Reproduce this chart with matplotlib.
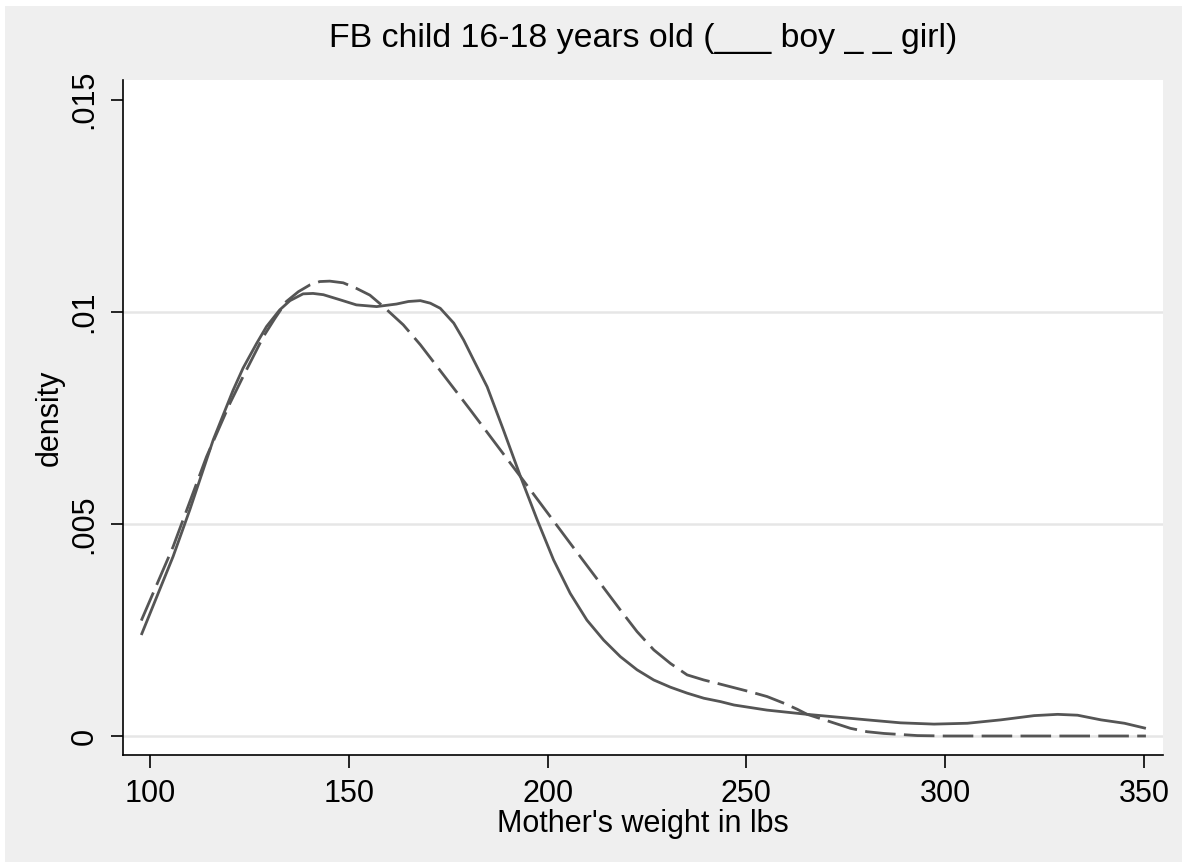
import matplotlib
matplotlib.use("Agg")
import matplotlib.pyplot as plt
from matplotlib.patches import Rectangle

plt.rcParams['font.family'] = ['Liberation Sans', 'DejaVu Sans']

# Boy (solid) density estimate
boy_x = [97.8, 105.8, 110.0, 115.9, 120.9, 123.4, 126.8, 129.3, 132.6, 135.2, 138.5,
         141.0, 143.6, 147.8, 151.9, 157.0, 162.0, 165.0, 168.0, 170.5, 173.0, 176.4,
         178.9, 181.4, 184.8, 188.9, 193.2, 197.4, 201.5, 205.7, 209.9, 214.1, 218.3,
         222.5, 226.7, 230.9, 235.1, 239.3, 243.5, 246.9, 255.2, 265.3, 280.4, 288.8,
         297.2, 305.6, 314.0, 322.4, 328.3, 333.3, 339.2, 345.1, 350.5]
boy_y = [0.00238, 0.00423, 0.00533, 0.00698, 0.00815, 0.00867, 0.00925, 0.00965, 0.01004,
         0.01026, 0.01042, 0.01043, 0.01040, 0.01028, 0.01016, 0.01012, 0.01018, 0.01024,
         0.01026, 0.01020, 0.01008, 0.00973, 0.00933, 0.00886, 0.00823, 0.00721, 0.00611,
         0.00509, 0.00415, 0.00336, 0.00273, 0.00226, 0.00187, 0.00156, 0.00132, 0.00115,
         0.00101, 0.00089, 0.00081, 0.00073, 0.00061, 0.00051, 0.00038, 0.00031, 0.00028,
         0.00030, 0.00038, 0.00048, 0.00051, 0.00049, 0.00038, 0.00030, 0.00018]

# Girl (dashed) density estimate
girl_x = [97.8, 105.8, 114.2, 120.1, 123.4, 128.5, 131.4, 134.3, 137.3, 140.2, 142.7,
          145.2, 148.6, 151.9, 155.3, 158.7, 163.7, 168.0, 180.6, 193.2, 205.7, 218.3,
          222.5, 226.7, 230.9, 235.1, 239.3, 242.7, 251.0, 255.2, 259.5, 262.8, 265.3,
          270.3, 276.2, 280.4, 284.6, 293.0, 300.0, 320.0, 340.0, 350.5]
girl_y = [0.00272, 0.00446, 0.00658, 0.00784, 0.00847, 0.00941, 0.00984, 0.01024, 0.01047,
          0.01063, 0.01071, 0.01072, 0.01068, 0.01055, 0.01039, 0.01012, 0.00969, 0.00922,
          0.00768, 0.00611, 0.00454, 0.00297, 0.00246, 0.00203, 0.00171, 0.00144, 0.00132,
          0.00124, 0.00104, 0.00093, 0.00077, 0.00063, 0.00051, 0.00036, 0.00018, 0.00010,
          0.00006, 0.00001, 0.0, 0.0, 0.0, 0.0]

x_ticks = [100, 150, 200, 250, 300, 350]
y_ticks = [0, 0.005, 0.01, 0.015]
y_tick_labels = ['0', '.005', '.01', '.015']
grid_levels = [0, 0.005, 0.01]

W, H = 1187, 867
fig = plt.figure(figsize=(W / 100, H / 100), dpi=100, facecolor='white')
fig.patches.append(Rectangle((5 / W, 5 / H), (W - 10) / W, (H - 11) / H,
                             transform=fig.transFigure, facecolor='#EFEFEF',
                             edgecolor='none', zorder=-10))

left, right, top, bottom = 123, 1163, 80, 755
ax = fig.add_axes([left / W, 1 - bottom / H, (right - left) / W, (bottom - top) / H])
ax.set_facecolor('white')

for g in grid_levels:
    ax.axhline(g, color='#E6E6E6', lw=1.8, zorder=1)

line_color = '#555555'
ax.plot(boy_x, boy_y, color=line_color, lw=2.0, solid_joinstyle='round',
        solid_capstyle='butt', zorder=3)
ax.plot(girl_x, girl_y, color=line_color, lw=2.0, dashes=(11, 3),
        dash_joinstyle='round', zorder=3)

ax.set_xlim(93.2, 354.8)
ax.set_ylim(-0.000448, 0.01546)
ax.set_xticks(x_ticks)
ax.set_xticklabels([str(t) for t in x_ticks])
ax.set_yticks(y_ticks)
ax.set_yticklabels(y_tick_labels, rotation=90, va='center')

for s in ['top', 'right']:
    ax.spines[s].set_visible(False)
for s in ['left', 'bottom']:
    ax.spines[s].set_linewidth(1.2)
    ax.spines[s].set_color('black')

ax.tick_params(axis='both', direction='out', length=9, width=1.2, labelsize=22,
               colors='black', pad=8)

ax.set_xlabel("Mother's weight in lbs", fontsize=22, labelpad=0)
ax.set_ylabel("density", fontsize=22, labelpad=3)
ax.set_title("FB child 16-18 years old (___ boy _ _ girl)", fontsize=24.4, pad=24)

fig.savefig('out.png', dpi=100, facecolor='white')
